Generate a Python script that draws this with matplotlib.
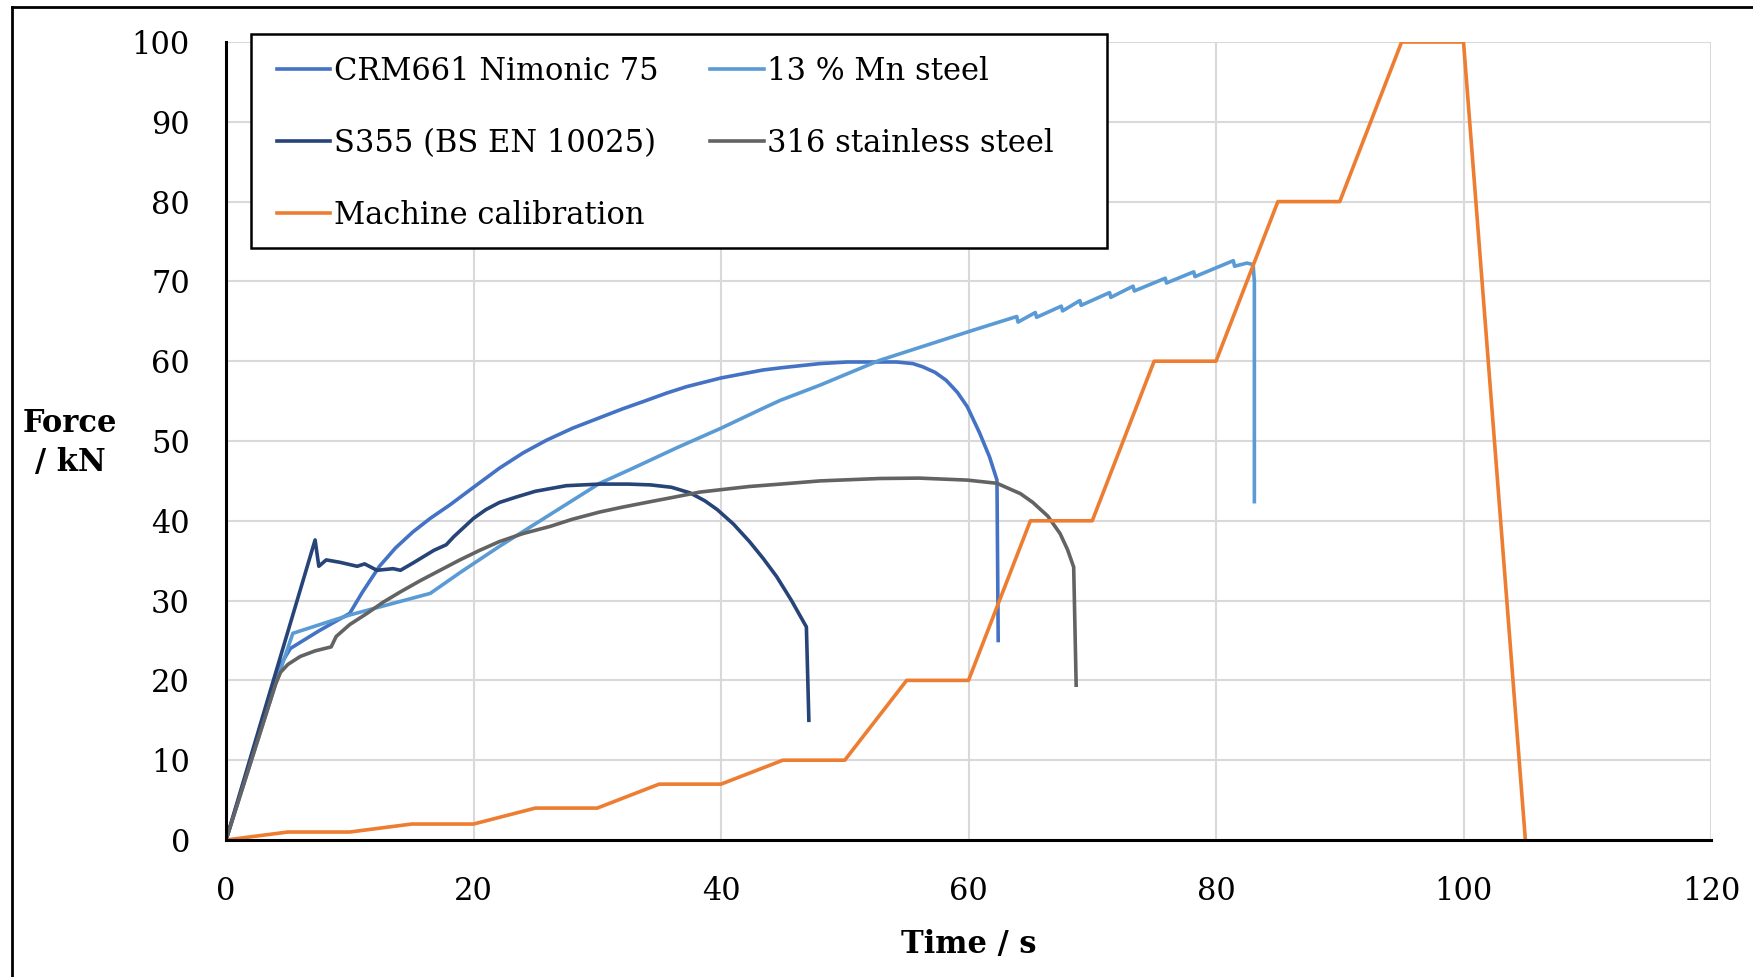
import matplotlib.pyplot as plt
from matplotlib.lines import Line2D
from matplotlib.patches import Rectangle

plt.rcParams['font.family'] = ['DejaVu Serif']

# CRM661 Nimonic 75
crm_t = [0, 4.0, 4.5, 5.2, 7.5, 10.0, 11.0, 12.4, 13.7, 15.1, 16.5, 18.1, 20.0, 22.1, 24.0,
         25.9, 28.0, 30.0, 32.0, 34.0, 35.6, 37.2, 40.0, 43.4, 45.0, 48.0, 50.2, 54.2, 55.5,
         56.3, 57.3, 58.2, 59.1, 59.9, 60.9, 61.7, 62.3, 62.4]
crm_f = [0, 20.0, 22.2, 24.0, 26.2, 28.4, 31.0, 34.3, 36.6, 38.6, 40.3, 42.0, 44.2, 46.6, 48.5,
         50.1, 51.6, 52.8, 54.0, 55.1, 56.0, 56.8, 57.9, 58.9, 59.2, 59.7, 59.9, 59.9, 59.7,
         59.3, 58.6, 57.6, 56.1, 54.3, 51.0, 48.0, 45.1, 25.0]

# 13 % Mn steel
mn_t = [0, 4.0, 5.4, 10.0, 16.5, 19.0, 22.1, 26.0, 30.2, 32.9, 36.5, 40.0, 43.4, 44.8, 48.0,
        52.8, 58.0, 60.4,
        63.9, 64.0, 65.4, 65.5, 67.5, 67.6, 69.0, 69.1, 71.4, 71.5, 73.3, 73.4, 75.9, 76.0,
        78.2, 78.3, 81.4, 81.5, 82.5, 83.0, 83.1, 83.1]
mn_f = [0, 19.5, 25.9, 28.2, 30.9, 33.6, 36.8, 40.6, 44.7, 46.6, 49.2, 51.6, 54.1, 55.1, 57.0,
        60.1, 62.7, 63.9,
        65.6, 64.9, 66.1, 65.5, 66.9, 66.3, 67.6, 67.0, 68.6, 68.0, 69.4, 68.8, 70.4, 69.8,
        71.2, 70.6, 72.6, 71.9, 72.3, 72.1, 70.0, 42.4]

# S355 (BS EN 10025)
s355_t = [0, 7.2, 7.5, 8.1, 9.2, 10.6, 11.2, 12.2, 13.5, 14.1, 15.1, 16.8, 17.8, 18.4, 20.0,
          21.0, 22.1, 23.5, 25.0, 27.5, 30.2, 32.5, 34.3, 36.0, 37.5, 38.7, 39.7, 41.0, 42.3,
          43.4, 44.5, 45.7, 46.9, 47.1]
s355_f = [0, 37.6, 34.3, 35.1, 34.8, 34.3, 34.6, 33.8, 34.0, 33.8, 34.7, 36.3, 37.0, 38.0, 40.3,
          41.4, 42.3, 43.0, 43.7, 44.4, 44.6, 44.6, 44.5, 44.2, 43.5, 42.5, 41.4, 39.6, 37.4,
          35.3, 33.0, 30.0, 26.7, 15.0]

# 316 stainless steel
ss_t = [0, 4.0, 4.4, 5.0, 6.0, 7.2, 8.5, 8.9, 10.0, 11.4, 12.7, 14.1, 15.7, 17.3, 18.9, 20.5,
        22.1, 24.0, 26.2, 28.0, 30.2, 32.0, 34.3, 36.0, 38.3, 40.0, 42.3, 44.8, 48.0, 52.8,
        56.0, 59.9, 62.3, 64.2, 65.2, 66.4, 67.4, 68.0, 68.5, 68.7]
ss_f = [0, 19.5, 21.0, 22.0, 23.0, 23.7, 24.2, 25.5, 27.0, 28.4, 29.8, 31.1, 32.5, 33.8, 35.1,
        36.3, 37.4, 38.4, 39.3, 40.2, 41.1, 41.7, 42.4, 42.9, 43.6, 43.9, 44.3, 44.6, 45.0,
        45.3, 45.35, 45.1, 44.7, 43.4, 42.3, 40.6, 38.4, 36.4, 34.2, 19.4]

# Machine calibration
cal_t = [0, 5, 10, 15, 20, 25, 30, 35, 40, 45, 50, 55, 60, 65, 70, 75, 80, 85, 90, 95, 100, 105]
cal_f = [0, 1, 1, 2, 2, 4, 4, 7, 7, 10, 10, 20, 20, 40, 40, 60, 60, 80, 80, 100, 100, 0]

fig = plt.figure(figsize=(17.53, 9.77), dpi=100)
ax = fig.add_axes([226/1753, 1 - 840/977, (1711 - 226)/1753, (840 - 42)/977])

lw = 2.6
l1, = ax.plot(crm_t, crm_f, color='#4472C4', lw=lw, label='CRM661 Nimonic 75')
l2, = ax.plot(mn_t, mn_f, color='#5B9BD5', lw=lw, label='13 % Mn steel')
l3, = ax.plot(s355_t, s355_f, color='#264478', lw=lw, label='S355 (BS EN 10025)')
l4, = ax.plot(ss_t, ss_f, color='#636363', lw=lw, label='316 stainless steel')
l5, = ax.plot(cal_t, cal_f, color='#ED7D31', lw=lw, label='Machine calibration')

ax.set_xlim(0, 120)
ax.set_ylim(0, 100)
ax.set_xticks(range(0, 121, 20))
ax.set_yticks(range(0, 101, 10))
ax.grid(True, color='#D9D9D9', lw=1.5)
ax.set_axisbelow(True)
ax.tick_params(length=0, labelsize=22, pad=26)
for s in ['top', 'right']:
    ax.spines[s].set_visible(False)
for s in ['left', 'bottom']:
    ax.spines[s].set_linewidth(2.2)
    ax.spines[s].set_color('black')

fig.text(70/1753, 1 - 443/977, 'Force\n/ kN', ha='center', va='center',
         fontsize=22, fontweight='bold', linespacing=1.35)
fig.text(969/1753, 1 - 945/977, 'Time / s', ha='center', va='center',
         fontsize=22, fontweight='bold')

# legend box
box = Rectangle((251/1753, 1 - 248/977), (1107 - 251)/1753, (248 - 34)/977,
                transform=fig.transFigure, facecolor='white', edgecolor='black',
                lw=1.8, zorder=1)
fig.add_artist(box)
hs = [l1, l3, l5, l2, l4]
fig.legend(hs, [h.get_label() for h in hs], ncol=2, loc='upper left',
           bbox_to_anchor=(255/1753, 1 - 34/977), borderaxespad=0,
           fontsize=22, handlelength=1.75, handletextpad=0.1,
           labelspacing=1.34, borderpad=0.72, columnspacing=1.7, frameon=False)

# outer border of the chart area
fig.add_artist(Line2D([12/1753, 1], [1 - 7/977, 1 - 7/977], color='black', lw=2))
fig.add_artist(Line2D([12/1753, 12/1753], [0, 1 - 7/977], color='black', lw=2))

fig.savefig('out.png', dpi=100)
